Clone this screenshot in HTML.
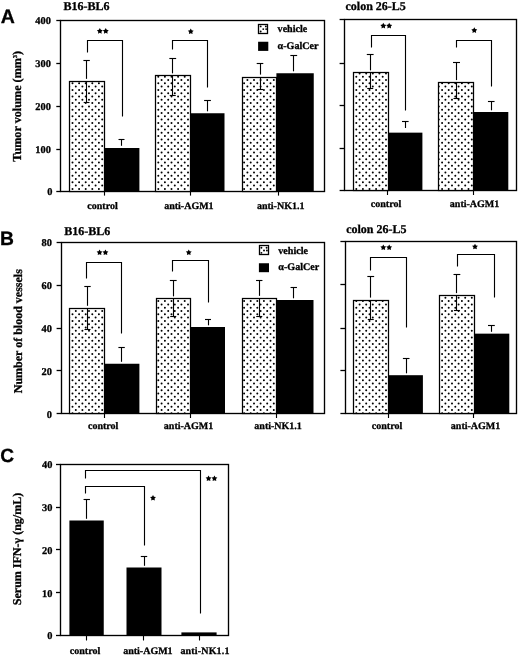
<!DOCTYPE html>
<html><head><meta charset="utf-8"><title>Figure</title>
<style>
html,body{margin:0;padding:0;background:#fff;}
body{width:520px;height:656px;overflow:hidden;font-family:"Liberation Serif",serif;}
svg{display:block;text-rendering:geometricPrecision;}
</style></head>
<body>
<svg width="520" height="656" viewBox="0 0 520 656">
<defs>
<filter id="soft" x="-2%" y="-2%" width="104%" height="104%"><feGaussianBlur stdDeviation="0.3"/></filter>
</defs>
<rect width="520" height="656" fill="#fff"/>
<g filter="url(#soft)">
<rect x="60.5" y="20.5" width="264.0" height="171.0" fill="none" stroke="#000" stroke-width="1.35"/>
<line x1="56.3" y1="20.5" x2="60.8" y2="20.5" stroke="#000" stroke-width="1.3"/>
<text x="50.9" y="24.15" font-family="Liberation Serif" font-weight="bold" font-size="10.4" text-anchor="end" fill="#000" stroke="#000" stroke-width="0.3" >400</text>
<line x1="56.3" y1="63.5" x2="60.8" y2="63.5" stroke="#000" stroke-width="1.3"/>
<text x="50.9" y="67.05" font-family="Liberation Serif" font-weight="bold" font-size="10.4" text-anchor="end" fill="#000" stroke="#000" stroke-width="0.3" >300</text>
<line x1="56.3" y1="106.5" x2="60.8" y2="106.5" stroke="#000" stroke-width="1.3"/>
<text x="50.9" y="109.85" font-family="Liberation Serif" font-weight="bold" font-size="10.4" text-anchor="end" fill="#000" stroke="#000" stroke-width="0.3" >200</text>
<line x1="56.3" y1="149.5" x2="60.8" y2="149.5" stroke="#000" stroke-width="1.3"/>
<text x="50.9" y="152.95" font-family="Liberation Serif" font-weight="bold" font-size="10.4" text-anchor="end" fill="#000" stroke="#000" stroke-width="0.3" >100</text>
<line x1="56.3" y1="191.5" x2="60.8" y2="191.5" stroke="#000" stroke-width="1.3"/>
<text x="52.5" y="195.45" font-family="Liberation Serif" font-weight="bold" font-size="10.4" text-anchor="end" fill="#000" stroke="#000" stroke-width="0.3" >0</text>
<clipPath id="c1"><rect x="69.5" y="81.25" width="34.75" height="110.45"/></clipPath>
<rect x="69.5" y="81.25" width="34.75" height="110.45" fill="#fff"/>
<path clip-path="url(#c1)" fill="none" stroke="#000" stroke-width="2.0" stroke-linecap="round" stroke-dasharray="0 6.6" d="M72.50 83.30H105.2M72.50 89.90H105.2M72.50 96.50H105.2M72.50 103.10H105.2M72.50 109.70H105.2M72.50 116.30H105.2M72.50 122.90H105.2M72.50 129.50H105.2M72.50 136.10H105.2M72.50 142.70H105.2M72.50 149.30H105.2M72.50 155.90H105.2M72.50 162.50H105.2M72.50 169.10H105.2M72.50 175.70H105.2M72.50 182.30H105.2M72.50 188.90H105.2M69.20 86.60H105.2M69.20 93.20H105.2M69.20 99.80H105.2M69.20 106.40H105.2M69.20 113.00H105.2M69.20 119.60H105.2M69.20 126.20H105.2M69.20 132.80H105.2M69.20 139.40H105.2M69.20 146.00H105.2M69.20 152.60H105.2M69.20 159.20H105.2M69.20 165.80H105.2M69.20 172.40H105.2M69.20 179.00H105.2M69.20 185.60H105.2M69.20 192.20H105.2"/>
<rect x="69.5" y="81.5" width="35.0" height="110.0" fill="none" stroke="#000" stroke-width="1.25"/>
<line x1="83.39999999999999" y1="60.5" x2="89.8" y2="60.5" stroke="#000" stroke-width="1.12"/>
<line x1="86.5" y1="60.7" x2="86.5" y2="78.85" stroke="#000" stroke-width="1.12"/>
<line x1="86.5" y1="81.25" x2="86.5" y2="102.4" stroke="#000" stroke-width="1.12"/>
<line x1="83.69999999999999" y1="102.5" x2="89.5" y2="102.5" stroke="#000" stroke-width="1.12"/>
<rect x="104.25" y="148" width="35.15" height="43.7" fill="#000" />
<line x1="118.5" y1="139.5" x2="124.5" y2="139.5" stroke="#000" stroke-width="1.12"/>
<line x1="121.5" y1="139.8" x2="121.5" y2="145.8" stroke="#000" stroke-width="1.12"/>
<clipPath id="c2"><rect x="155.5" y="75.75" width="34.5" height="115.95"/></clipPath>
<rect x="155.5" y="75.75" width="34.5" height="115.95" fill="#fff"/>
<path clip-path="url(#c2)" fill="none" stroke="#000" stroke-width="2.0" stroke-linecap="round" stroke-dasharray="0 6.6" d="M158.30 76.70H191.0M158.30 83.30H191.0M158.30 89.90H191.0M158.30 96.50H191.0M158.30 103.10H191.0M158.30 109.70H191.0M158.30 116.30H191.0M158.30 122.90H191.0M158.30 129.50H191.0M158.30 136.10H191.0M158.30 142.70H191.0M158.30 149.30H191.0M158.30 155.90H191.0M158.30 162.50H191.0M158.30 169.10H191.0M158.30 175.70H191.0M158.30 182.30H191.0M158.30 188.90H191.0M155.00 80.00H191.0M155.00 86.60H191.0M155.00 93.20H191.0M155.00 99.80H191.0M155.00 106.40H191.0M155.00 113.00H191.0M155.00 119.60H191.0M155.00 126.20H191.0M155.00 132.80H191.0M155.00 139.40H191.0M155.00 146.00H191.0M155.00 152.60H191.0M155.00 159.20H191.0M155.00 165.80H191.0M155.00 172.40H191.0M155.00 179.00H191.0M155.00 185.60H191.0M155.00 192.20H191.0"/>
<rect x="155.5" y="75.5" width="35.0" height="116.0" fill="none" stroke="#000" stroke-width="1.25"/>
<line x1="169.35" y1="58.5" x2="176.15" y2="58.5" stroke="#000" stroke-width="1.12"/>
<line x1="172.5" y1="58.75" x2="172.5" y2="73.35" stroke="#000" stroke-width="1.12"/>
<line x1="172.5" y1="75.75" x2="172.5" y2="95.5" stroke="#000" stroke-width="1.12"/>
<line x1="169.75" y1="95.5" x2="175.75" y2="95.5" stroke="#000" stroke-width="1.12"/>
<rect x="190" y="113.25" width="34.5" height="78.45" fill="#000" />
<line x1="204.1" y1="100.5" x2="210.9" y2="100.5" stroke="#000" stroke-width="1.12"/>
<line x1="207.5" y1="100.75" x2="207.5" y2="111.3" stroke="#000" stroke-width="1.12"/>
<clipPath id="c3"><rect x="242" y="77" width="34.4" height="114.7"/></clipPath>
<rect x="242" y="77" width="34.4" height="114.7" fill="#fff"/>
<path clip-path="url(#c3)" fill="none" stroke="#000" stroke-width="2.0" stroke-linecap="round" stroke-dasharray="0 6.6" d="M244.10 76.70H277.4M244.10 83.30H277.4M244.10 89.90H277.4M244.10 96.50H277.4M244.10 103.10H277.4M244.10 109.70H277.4M244.10 116.30H277.4M244.10 122.90H277.4M244.10 129.50H277.4M244.10 136.10H277.4M244.10 142.70H277.4M244.10 149.30H277.4M244.10 155.90H277.4M244.10 162.50H277.4M244.10 169.10H277.4M244.10 175.70H277.4M244.10 182.30H277.4M244.10 188.90H277.4M247.40 80.00H277.4M247.40 86.60H277.4M247.40 93.20H277.4M247.40 99.80H277.4M247.40 106.40H277.4M247.40 113.00H277.4M247.40 119.60H277.4M247.40 126.20H277.4M247.40 132.80H277.4M247.40 139.40H277.4M247.40 146.00H277.4M247.40 152.60H277.4M247.40 159.20H277.4M247.40 165.80H277.4M247.40 172.40H277.4M247.40 179.00H277.4M247.40 185.60H277.4M247.40 192.20H277.4"/>
<rect x="242.5" y="77.5" width="34.0" height="114.0" fill="none" stroke="#000" stroke-width="1.25"/>
<line x1="256.7" y1="63.5" x2="263.3" y2="63.5" stroke="#000" stroke-width="1.12"/>
<line x1="260.5" y1="63" x2="260.5" y2="74.6" stroke="#000" stroke-width="1.12"/>
<line x1="260.5" y1="77" x2="260.5" y2="89.5" stroke="#000" stroke-width="1.12"/>
<line x1="257.0" y1="89.5" x2="263.0" y2="89.5" stroke="#000" stroke-width="1.12"/>
<rect x="276.4" y="73.25" width="37.35" height="118.45" fill="#000" />
<line x1="290.35" y1="55.5" x2="297.15" y2="55.5" stroke="#000" stroke-width="1.12"/>
<line x1="293.5" y1="55" x2="293.5" y2="71.3" stroke="#000" stroke-width="1.12"/>
<polyline points="87.5,52.5 87.5,40.5 122.5,40.5 122.5,116.5" fill="none" stroke="#000" stroke-width="1.12"/>
<polyline points="172.5,49.5 172.5,40.5 207.5,40.5 207.5,87.5" fill="none" stroke="#000" stroke-width="1.12"/>
<polygon points="99.85,28.1 100.82,29.87 102.8,30.24 101.41,31.71 101.67,33.71 99.85,32.84 98.03,33.71 98.29,31.71 96.9,30.24 98.88,29.87" fill="#000"/>
<polygon points="105.75,28.1 106.72,29.87 108.7,30.24 107.31,31.71 107.57,33.71 105.75,32.84 103.93,33.71 104.19,31.71 102.8,30.24 104.78,29.87" fill="#000"/>
<polygon points="190.75,28.5 191.72,30.27 193.7,30.64 192.31,32.11 192.57,34.11 190.75,33.24 188.93,34.11 189.19,32.11 187.8,30.64 189.78,30.27" fill="#000"/>
<line x1="104.5" y1="191.7" x2="104.5" y2="195.6" stroke="#000" stroke-width="1.12"/>
<line x1="190.5" y1="191.7" x2="190.5" y2="195.6" stroke="#000" stroke-width="1.12"/>
<line x1="278.5" y1="191.7" x2="278.5" y2="195.6" stroke="#000" stroke-width="1.12"/>
<text x="102.5" y="208.75" font-family="Liberation Serif" font-weight="bold" font-size="10" text-anchor="middle" fill="#000" stroke="#000" stroke-width="0.3" >control</text>
<text x="188.9" y="208.75" font-family="Liberation Serif" font-weight="bold" font-size="10" text-anchor="middle" fill="#000" stroke="#000" stroke-width="0.3" >anti-AGM1</text>
<text x="280.7" y="208.75" font-family="Liberation Serif" font-weight="bold" font-size="10" text-anchor="middle" fill="#000" stroke="#000" stroke-width="0.3" >anti-NK1.1</text>
<text x="63.5" y="10.4" font-family="Liberation Serif" font-weight="bold" font-size="12" text-anchor="start" fill="#000" stroke="#000" stroke-width="0.3" >B16-BL6</text>
<rect x="258.5" y="24.5" width="9.0" height="9.0" fill="#fff" stroke="#000" stroke-width="1.3"/>
<circle cx="260.65" cy="26.4" r="0.95" fill="#000"/>
<circle cx="265.85" cy="26.4" r="0.95" fill="#000"/>
<circle cx="263.25" cy="29.1" r="0.95" fill="#000"/>
<circle cx="260.65" cy="31.5" r="0.95" fill="#000"/>
<circle cx="266.15" cy="29.1" r="0.95" fill="#000"/>
<rect x="258.1" y="41.75" width="10.2" height="9.15" fill="#000" />
<text x="277.6" y="32.3" font-family="Liberation Serif" font-weight="bold" font-size="10.1" text-anchor="start" fill="#000" stroke="#000" stroke-width="0.3" >vehicle</text>
<text x="277.6" y="49.1" font-family="Liberation Serif" font-weight="bold" font-size="10.1" text-anchor="start" fill="#000" stroke="#000" stroke-width="0.3" >&alpha;-GalCer</text>
<text x="0.7" y="22.8" font-family="Liberation Sans" font-weight="bold" font-size="19.5" text-anchor="start" fill="#000" stroke="#000" stroke-width="0.3" >A</text>
<text transform="translate(21.2,106.3) rotate(-90)" font-family="Liberation Serif" font-weight="bold" font-size="12.2" text-anchor="middle" fill="#000" stroke="#000" stroke-width="0.3">Tumor volume (mm<tspan font-size="6" dy="-4.6">3</tspan><tspan dy="4.6">)</tspan></text>
<rect x="344.5" y="19.5" width="172.0" height="171.0" fill="none" stroke="#000" stroke-width="1.35"/>
<line x1="339.6" y1="19.5" x2="344.6" y2="19.5" stroke="#000" stroke-width="1.3"/>
<line x1="339.6" y1="63.5" x2="344.6" y2="63.5" stroke="#000" stroke-width="1.3"/>
<line x1="339.6" y1="105.5" x2="344.6" y2="105.5" stroke="#000" stroke-width="1.3"/>
<line x1="339.6" y1="148.5" x2="344.6" y2="148.5" stroke="#000" stroke-width="1.3"/>
<line x1="339.6" y1="190.5" x2="344.6" y2="190.5" stroke="#000" stroke-width="1.3"/>
<clipPath id="c4"><rect x="353.4" y="72.75" width="34.6" height="117.85"/></clipPath>
<rect x="353.4" y="72.75" width="34.6" height="117.85" fill="#fff"/>
<path clip-path="url(#c4)" fill="none" stroke="#000" stroke-width="2.0" stroke-linecap="round" stroke-dasharray="0 6.6" d="M356.30 76.70H389.0M356.30 83.30H389.0M356.30 89.90H389.0M356.30 96.50H389.0M356.30 103.10H389.0M356.30 109.70H389.0M356.30 116.30H389.0M356.30 122.90H389.0M356.30 129.50H389.0M356.30 136.10H389.0M356.30 142.70H389.0M356.30 149.30H389.0M356.30 155.90H389.0M356.30 162.50H389.0M356.30 169.10H389.0M356.30 175.70H389.0M356.30 182.30H389.0M356.30 188.90H389.0M353.00 73.40H389.0M353.00 80.00H389.0M353.00 86.60H389.0M353.00 93.20H389.0M353.00 99.80H389.0M353.00 106.40H389.0M353.00 113.00H389.0M353.00 119.60H389.0M353.00 126.20H389.0M353.00 132.80H389.0M353.00 139.40H389.0M353.00 146.00H389.0M353.00 152.60H389.0M353.00 159.20H389.0M353.00 165.80H389.0M353.00 172.40H389.0M353.00 179.00H389.0M353.00 185.60H389.0"/>
<rect x="353.5" y="72.5" width="35.0" height="118.0" fill="none" stroke="#000" stroke-width="1.25"/>
<line x1="366.8" y1="54.5" x2="373.59999999999997" y2="54.5" stroke="#000" stroke-width="1.12"/>
<line x1="370.5" y1="54.5" x2="370.5" y2="70.35" stroke="#000" stroke-width="1.12"/>
<line x1="370.5" y1="72.75" x2="370.5" y2="88.75" stroke="#000" stroke-width="1.12"/>
<line x1="367.2" y1="88.5" x2="373.2" y2="88.5" stroke="#000" stroke-width="1.12"/>
<rect x="388" y="132.65" width="34.4" height="57.95" fill="#000" />
<line x1="402.0" y1="121.5" x2="408.6" y2="121.5" stroke="#000" stroke-width="1.12"/>
<line x1="405.5" y1="121.6" x2="405.5" y2="128.0" stroke="#000" stroke-width="1.12"/>
<clipPath id="c5"><rect x="438.75" y="82.5" width="35.0" height="108.1"/></clipPath>
<rect x="438.75" y="82.5" width="35.0" height="108.1" fill="#fff"/>
<path clip-path="url(#c5)" fill="none" stroke="#000" stroke-width="2.0" stroke-linecap="round" stroke-dasharray="0 6.6" d="M442.10 83.30H474.8M442.10 89.90H474.8M442.10 96.50H474.8M442.10 103.10H474.8M442.10 109.70H474.8M442.10 116.30H474.8M442.10 122.90H474.8M442.10 129.50H474.8M442.10 136.10H474.8M442.10 142.70H474.8M442.10 149.30H474.8M442.10 155.90H474.8M442.10 162.50H474.8M442.10 169.10H474.8M442.10 175.70H474.8M442.10 182.30H474.8M442.10 188.90H474.8M438.80 86.60H474.8M438.80 93.20H474.8M438.80 99.80H474.8M438.80 106.40H474.8M438.80 113.00H474.8M438.80 119.60H474.8M438.80 126.20H474.8M438.80 132.80H474.8M438.80 139.40H474.8M438.80 146.00H474.8M438.80 152.60H474.8M438.80 159.20H474.8M438.80 165.80H474.8M438.80 172.40H474.8M438.80 179.00H474.8M438.80 185.60H474.8"/>
<rect x="438.5" y="82.5" width="35.0" height="108.0" fill="none" stroke="#000" stroke-width="1.25"/>
<line x1="453.0" y1="62.5" x2="460.0" y2="62.5" stroke="#000" stroke-width="1.12"/>
<line x1="456.5" y1="62" x2="456.5" y2="80.1" stroke="#000" stroke-width="1.12"/>
<line x1="456.5" y1="82.5" x2="456.5" y2="98.75" stroke="#000" stroke-width="1.12"/>
<line x1="453.5" y1="98.5" x2="459.5" y2="98.5" stroke="#000" stroke-width="1.12"/>
<rect x="473.75" y="112" width="34.55" height="78.6" fill="#000" />
<line x1="487.95" y1="101.5" x2="494.55" y2="101.5" stroke="#000" stroke-width="1.12"/>
<line x1="491.5" y1="101.25" x2="491.5" y2="110.3" stroke="#000" stroke-width="1.12"/>
<polyline points="371.5,47.5 371.5,35.5 405.5,35.5 405.5,110.5" fill="none" stroke="#000" stroke-width="1.12"/>
<polyline points="456.5,47.5 456.5,40.5 491.5,40.5 491.5,86.5" fill="none" stroke="#000" stroke-width="1.12"/>
<polygon points="383.3,22.8 384.27,24.57 386.25,24.94 384.86,26.41 385.12,28.41 383.3,27.54 381.48,28.41 381.74,26.41 380.35,24.94 382.33,24.57" fill="#000"/>
<polygon points="389.2,22.8 390.17,24.57 392.15,24.94 390.76,26.41 391.02,28.41 389.2,27.54 387.38,28.41 387.64,26.41 386.25,24.94 388.23,24.57" fill="#000"/>
<polygon points="474.3,27.3 475.27,29.07 477.25,29.44 475.86,30.91 476.12,32.91 474.3,32.04 472.48,32.91 472.74,30.91 471.35,29.44 473.33,29.07" fill="#000"/>
<line x1="387.5" y1="190.6" x2="387.5" y2="195" stroke="#000" stroke-width="1.12"/>
<line x1="473.5" y1="190.6" x2="473.5" y2="195" stroke="#000" stroke-width="1.12"/>
<text x="386" y="206.75" font-family="Liberation Serif" font-weight="bold" font-size="10" text-anchor="middle" fill="#000" stroke="#000" stroke-width="0.3" >control</text>
<text x="474.6" y="206.75" font-family="Liberation Serif" font-weight="bold" font-size="10" text-anchor="middle" fill="#000" stroke="#000" stroke-width="0.3" >anti-AGM1</text>
<text x="345.5" y="9.5" font-family="Liberation Serif" font-weight="bold" font-size="12" text-anchor="start" fill="#000" stroke="#000" stroke-width="0.3" >colon 26-L5</text>
<rect x="61.5" y="242.5" width="263.0" height="171.0" fill="none" stroke="#000" stroke-width="1.35"/>
<line x1="56.6" y1="242.5" x2="61.4" y2="242.5" stroke="#000" stroke-width="1.3"/>
<text x="52" y="246.0" font-family="Liberation Serif" font-weight="bold" font-size="10.4" text-anchor="end" fill="#000" stroke="#000" stroke-width="0.3" >80</text>
<line x1="56.6" y1="285.5" x2="61.4" y2="285.5" stroke="#000" stroke-width="1.3"/>
<text x="52" y="289.0" font-family="Liberation Serif" font-weight="bold" font-size="10.4" text-anchor="end" fill="#000" stroke="#000" stroke-width="0.3" >60</text>
<line x1="56.6" y1="328.5" x2="61.4" y2="328.5" stroke="#000" stroke-width="1.3"/>
<text x="52" y="331.95" font-family="Liberation Serif" font-weight="bold" font-size="10.4" text-anchor="end" fill="#000" stroke="#000" stroke-width="0.3" >40</text>
<line x1="56.6" y1="370.5" x2="61.4" y2="370.5" stroke="#000" stroke-width="1.3"/>
<text x="52" y="374.65" font-family="Liberation Serif" font-weight="bold" font-size="10.4" text-anchor="end" fill="#000" stroke="#000" stroke-width="0.3" >20</text>
<line x1="56.6" y1="413.5" x2="61.4" y2="413.5" stroke="#000" stroke-width="1.3"/>
<text x="52" y="417.5" font-family="Liberation Serif" font-weight="bold" font-size="10.4" text-anchor="end" fill="#000" stroke="#000" stroke-width="0.3" >0</text>
<clipPath id="c6"><rect x="69.7" y="308.2" width="34.8" height="105.55"/></clipPath>
<rect x="69.7" y="308.2" width="34.8" height="105.55" fill="#fff"/>
<path clip-path="url(#c6)" fill="none" stroke="#000" stroke-width="2.0" stroke-linecap="round" stroke-dasharray="0 6.6" d="M72.50 307.70H105.5M72.50 314.30H105.5M72.50 320.90H105.5M72.50 327.50H105.5M72.50 334.10H105.5M72.50 340.70H105.5M72.50 347.30H105.5M72.50 353.90H105.5M72.50 360.50H105.5M72.50 367.10H105.5M72.50 373.70H105.5M72.50 380.30H105.5M72.50 386.90H105.5M72.50 393.50H105.5M72.50 400.10H105.5M72.50 406.70H105.5M72.50 413.30H105.5M69.20 311.00H105.5M69.20 317.60H105.5M69.20 324.20H105.5M69.20 330.80H105.5M69.20 337.40H105.5M69.20 344.00H105.5M69.20 350.60H105.5M69.20 357.20H105.5M69.20 363.80H105.5M69.20 370.40H105.5M69.20 377.00H105.5M69.20 383.60H105.5M69.20 390.20H105.5M69.20 396.80H105.5M69.20 403.40H105.5M69.20 410.00H105.5"/>
<rect x="69.5" y="308.5" width="35.0" height="105.0" fill="none" stroke="#000" stroke-width="1.25"/>
<line x1="84.3" y1="286.5" x2="90.7" y2="286.5" stroke="#000" stroke-width="1.12"/>
<line x1="87.5" y1="286.75" x2="87.5" y2="305.8" stroke="#000" stroke-width="1.12"/>
<line x1="87.5" y1="308.2" x2="87.5" y2="329.5" stroke="#000" stroke-width="1.12"/>
<line x1="84.5" y1="329.5" x2="90.5" y2="329.5" stroke="#000" stroke-width="1.12"/>
<rect x="104.5" y="363.75" width="34.9" height="50.0" fill="#000" />
<line x1="118.39999999999999" y1="347.5" x2="124.8" y2="347.5" stroke="#000" stroke-width="1.12"/>
<line x1="121.5" y1="347.5" x2="121.5" y2="361.8" stroke="#000" stroke-width="1.12"/>
<clipPath id="c7"><rect x="156.25" y="298.75" width="34.5" height="115.0"/></clipPath>
<rect x="156.25" y="298.75" width="34.5" height="115.0" fill="#fff"/>
<path clip-path="url(#c7)" fill="none" stroke="#000" stroke-width="2.0" stroke-linecap="round" stroke-dasharray="0 6.6" d="M158.30 301.10H191.8M158.30 307.70H191.8M158.30 314.30H191.8M158.30 320.90H191.8M158.30 327.50H191.8M158.30 334.10H191.8M158.30 340.70H191.8M158.30 347.30H191.8M158.30 353.90H191.8M158.30 360.50H191.8M158.30 367.10H191.8M158.30 373.70H191.8M158.30 380.30H191.8M158.30 386.90H191.8M158.30 393.50H191.8M158.30 400.10H191.8M158.30 406.70H191.8M158.30 413.30H191.8M161.60 297.80H191.8M161.60 304.40H191.8M161.60 311.00H191.8M161.60 317.60H191.8M161.60 324.20H191.8M161.60 330.80H191.8M161.60 337.40H191.8M161.60 344.00H191.8M161.60 350.60H191.8M161.60 357.20H191.8M161.60 363.80H191.8M161.60 370.40H191.8M161.60 377.00H191.8M161.60 383.60H191.8M161.60 390.20H191.8M161.60 396.80H191.8M161.60 403.40H191.8M161.60 410.00H191.8"/>
<rect x="156.5" y="298.5" width="34.0" height="115.0" fill="none" stroke="#000" stroke-width="1.25"/>
<line x1="169.85" y1="280.5" x2="176.65" y2="280.5" stroke="#000" stroke-width="1.12"/>
<line x1="173.5" y1="280" x2="173.5" y2="296.35" stroke="#000" stroke-width="1.12"/>
<line x1="173.5" y1="298.75" x2="173.5" y2="316.75" stroke="#000" stroke-width="1.12"/>
<line x1="170.25" y1="316.5" x2="176.25" y2="316.5" stroke="#000" stroke-width="1.12"/>
<rect x="190.75" y="327" width="34.25" height="86.75" fill="#000" />
<line x1="205.0" y1="319.5" x2="211.0" y2="319.5" stroke="#000" stroke-width="1.12"/>
<line x1="208.5" y1="319.5" x2="208.5" y2="325.3" stroke="#000" stroke-width="1.12"/>
<clipPath id="c8"><rect x="242" y="298.25" width="34.5" height="115.5"/></clipPath>
<rect x="242" y="298.25" width="34.5" height="115.5" fill="#fff"/>
<path clip-path="url(#c8)" fill="none" stroke="#000" stroke-width="2.0" stroke-linecap="round" stroke-dasharray="0 6.6" d="M244.10 301.10H277.5M244.10 307.70H277.5M244.10 314.30H277.5M244.10 320.90H277.5M244.10 327.50H277.5M244.10 334.10H277.5M244.10 340.70H277.5M244.10 347.30H277.5M244.10 353.90H277.5M244.10 360.50H277.5M244.10 367.10H277.5M244.10 373.70H277.5M244.10 380.30H277.5M244.10 386.90H277.5M244.10 393.50H277.5M244.10 400.10H277.5M244.10 406.70H277.5M244.10 413.30H277.5M247.40 297.80H277.5M247.40 304.40H277.5M247.40 311.00H277.5M247.40 317.60H277.5M247.40 324.20H277.5M247.40 330.80H277.5M247.40 337.40H277.5M247.40 344.00H277.5M247.40 350.60H277.5M247.40 357.20H277.5M247.40 363.80H277.5M247.40 370.40H277.5M247.40 377.00H277.5M247.40 383.60H277.5M247.40 390.20H277.5M247.40 396.80H277.5M247.40 403.40H277.5M247.40 410.00H277.5"/>
<rect x="242.5" y="298.5" width="34.0" height="115.0" fill="none" stroke="#000" stroke-width="1.25"/>
<line x1="256.05" y1="280.5" x2="262.45" y2="280.5" stroke="#000" stroke-width="1.12"/>
<line x1="259.5" y1="280" x2="259.5" y2="295.85" stroke="#000" stroke-width="1.12"/>
<line x1="259.5" y1="298.25" x2="259.5" y2="316.25" stroke="#000" stroke-width="1.12"/>
<line x1="256.25" y1="316.5" x2="262.25" y2="316.5" stroke="#000" stroke-width="1.12"/>
<rect x="276.5" y="300" width="37.0" height="113.75" fill="#000" />
<line x1="290.55" y1="287.5" x2="296.95" y2="287.5" stroke="#000" stroke-width="1.12"/>
<line x1="293.5" y1="287" x2="293.5" y2="298.3" stroke="#000" stroke-width="1.12"/>
<polyline points="86.5,278.5 86.5,262.5 121.5,262.5 121.5,333.5" fill="none" stroke="#000" stroke-width="1.12"/>
<polyline points="172.5,271.5 172.5,260.5 208.5,260.5 208.5,302.5" fill="none" stroke="#000" stroke-width="1.12"/>
<polygon points="99.55,249.4 100.52,251.17 102.5,251.54 101.11,253.01 101.37,255.01 99.55,254.14 97.73,255.01 97.99,253.01 96.6,251.54 98.58,251.17" fill="#000"/>
<polygon points="105.45,249.4 106.42,251.17 108.4,251.54 107.01,253.01 107.27,255.01 105.45,254.14 103.63,255.01 103.89,253.01 102.5,251.54 104.48,251.17" fill="#000"/>
<polygon points="188.75,249.4 189.72,251.17 191.7,251.54 190.31,253.01 190.57,255.01 188.75,254.14 186.93,255.01 187.19,253.01 185.8,251.54 187.78,251.17" fill="#000"/>
<line x1="104.5" y1="413.75" x2="104.5" y2="418" stroke="#000" stroke-width="1.12"/>
<line x1="190.5" y1="413.75" x2="190.5" y2="418" stroke="#000" stroke-width="1.12"/>
<line x1="276.5" y1="413.75" x2="276.5" y2="418" stroke="#000" stroke-width="1.12"/>
<text x="103.2" y="429.2" font-family="Liberation Serif" font-weight="bold" font-size="10" text-anchor="middle" fill="#000" stroke="#000" stroke-width="0.3" >control</text>
<text x="188.6" y="429.2" font-family="Liberation Serif" font-weight="bold" font-size="10" text-anchor="middle" fill="#000" stroke="#000" stroke-width="0.3" >anti-AGM1</text>
<text x="278.1" y="429.2" font-family="Liberation Serif" font-weight="bold" font-size="10" text-anchor="middle" fill="#000" stroke="#000" stroke-width="0.3" >anti-NK1.1</text>
<text x="64.2" y="234.5" font-family="Liberation Serif" font-weight="bold" font-size="12" text-anchor="start" fill="#000" stroke="#000" stroke-width="0.3" >B16-BL6</text>
<rect x="259.5" y="245.5" width="9.0" height="9.0" fill="#fff" stroke="#000" stroke-width="1.3"/>
<circle cx="261.4" cy="247.75" r="0.95" fill="#000"/>
<circle cx="266.6" cy="247.75" r="0.95" fill="#000"/>
<circle cx="264.0" cy="250.45" r="0.95" fill="#000"/>
<circle cx="261.4" cy="252.85" r="0.95" fill="#000"/>
<circle cx="266.9" cy="250.45" r="0.95" fill="#000"/>
<rect x="258.9" y="263.25" width="10.1" height="8.95" fill="#000" />
<text x="278.3" y="253.6" font-family="Liberation Serif" font-weight="bold" font-size="10.1" text-anchor="start" fill="#000" stroke="#000" stroke-width="0.3" >vehicle</text>
<text x="278.3" y="270.0" font-family="Liberation Serif" font-weight="bold" font-size="10.1" text-anchor="start" fill="#000" stroke="#000" stroke-width="0.3" >&alpha;-GalCer</text>
<text x="-0.1" y="244.8" font-family="Liberation Sans" font-weight="bold" font-size="19.3" text-anchor="start" fill="#000" stroke="#000" stroke-width="0.3" >B</text>
<text transform="translate(21.6,331.2) rotate(-90)" font-family="Liberation Serif" font-weight="bold" font-size="12" text-anchor="middle" fill="#000" stroke="#000" stroke-width="0.3">Number of blood vessels</text>
<rect x="345.5" y="241.5" width="171.0" height="172.0" fill="none" stroke="#000" stroke-width="1.35"/>
<line x1="340.4" y1="241.5" x2="345.4" y2="241.5" stroke="#000" stroke-width="1.3"/>
<line x1="340.4" y1="284.5" x2="345.4" y2="284.5" stroke="#000" stroke-width="1.3"/>
<line x1="340.4" y1="328.5" x2="345.4" y2="328.5" stroke="#000" stroke-width="1.3"/>
<line x1="340.4" y1="370.5" x2="345.4" y2="370.5" stroke="#000" stroke-width="1.3"/>
<line x1="340.4" y1="413.5" x2="345.4" y2="413.5" stroke="#000" stroke-width="1.3"/>
<clipPath id="c9"><rect x="353.75" y="300" width="34.85" height="113.6"/></clipPath>
<rect x="353.75" y="300" width="34.85" height="113.6" fill="#fff"/>
<path clip-path="url(#c9)" fill="none" stroke="#000" stroke-width="2.0" stroke-linecap="round" stroke-dasharray="0 6.6" d="M356.30 301.10H389.6M356.30 307.70H389.6M356.30 314.30H389.6M356.30 320.90H389.6M356.30 327.50H389.6M356.30 334.10H389.6M356.30 340.70H389.6M356.30 347.30H389.6M356.30 353.90H389.6M356.30 360.50H389.6M356.30 367.10H389.6M356.30 373.70H389.6M356.30 380.30H389.6M356.30 386.90H389.6M356.30 393.50H389.6M356.30 400.10H389.6M356.30 406.70H389.6M356.30 413.30H389.6M353.00 304.40H389.6M353.00 311.00H389.6M353.00 317.60H389.6M353.00 324.20H389.6M353.00 330.80H389.6M353.00 337.40H389.6M353.00 344.00H389.6M353.00 350.60H389.6M353.00 357.20H389.6M353.00 363.80H389.6M353.00 370.40H389.6M353.00 377.00H389.6M353.00 383.60H389.6M353.00 390.20H389.6M353.00 396.80H389.6M353.00 403.40H389.6M353.00 410.00H389.6"/>
<rect x="353.5" y="300.5" width="35.0" height="113.0" fill="none" stroke="#000" stroke-width="1.25"/>
<line x1="367.35" y1="276.5" x2="374.15" y2="276.5" stroke="#000" stroke-width="1.12"/>
<line x1="370.5" y1="276.2" x2="370.5" y2="297.6" stroke="#000" stroke-width="1.12"/>
<line x1="370.5" y1="300" x2="370.5" y2="319.5" stroke="#000" stroke-width="1.12"/>
<line x1="367.75" y1="319.5" x2="373.75" y2="319.5" stroke="#000" stroke-width="1.12"/>
<rect x="388.6" y="375.2" width="34.3" height="38.4" fill="#000" />
<line x1="402.9" y1="358.5" x2="409.5" y2="358.5" stroke="#000" stroke-width="1.12"/>
<line x1="406.5" y1="358.5" x2="406.5" y2="373.3" stroke="#000" stroke-width="1.12"/>
<clipPath id="c10"><rect x="439.5" y="295.5" width="35.1" height="118.1"/></clipPath>
<rect x="439.5" y="295.5" width="35.1" height="118.1" fill="#fff"/>
<path clip-path="url(#c10)" fill="none" stroke="#000" stroke-width="2.0" stroke-linecap="round" stroke-dasharray="0 6.6" d="M442.10 294.50H475.6M442.10 301.10H475.6M442.10 307.70H475.6M442.10 314.30H475.6M442.10 320.90H475.6M442.10 327.50H475.6M442.10 334.10H475.6M442.10 340.70H475.6M442.10 347.30H475.6M442.10 353.90H475.6M442.10 360.50H475.6M442.10 367.10H475.6M442.10 373.70H475.6M442.10 380.30H475.6M442.10 386.90H475.6M442.10 393.50H475.6M442.10 400.10H475.6M442.10 406.70H475.6M442.10 413.30H475.6M438.80 297.80H475.6M438.80 304.40H475.6M438.80 311.00H475.6M438.80 317.60H475.6M438.80 324.20H475.6M438.80 330.80H475.6M438.80 337.40H475.6M438.80 344.00H475.6M438.80 350.60H475.6M438.80 357.20H475.6M438.80 363.80H475.6M438.80 370.40H475.6M438.80 377.00H475.6M438.80 383.60H475.6M438.80 390.20H475.6M438.80 396.80H475.6M438.80 403.40H475.6M438.80 410.00H475.6"/>
<rect x="439.5" y="295.5" width="35.0" height="118.0" fill="none" stroke="#000" stroke-width="1.25"/>
<line x1="453.5" y1="274.5" x2="460.29999999999995" y2="274.5" stroke="#000" stroke-width="1.12"/>
<line x1="456.5" y1="274.7" x2="456.5" y2="293.1" stroke="#000" stroke-width="1.12"/>
<line x1="456.5" y1="295.5" x2="456.5" y2="310.7" stroke="#000" stroke-width="1.12"/>
<line x1="453.9" y1="310.5" x2="459.9" y2="310.5" stroke="#000" stroke-width="1.12"/>
<rect x="474.6" y="333.65" width="34.7" height="79.95" fill="#000" />
<line x1="488.0" y1="325.5" x2="494.79999999999995" y2="325.5" stroke="#000" stroke-width="1.12"/>
<line x1="491.5" y1="325.3" x2="491.5" y2="331.8" stroke="#000" stroke-width="1.12"/>
<polyline points="370.5,270.5 370.5,257.5 406.5,257.5 406.5,327.5" fill="none" stroke="#000" stroke-width="1.12"/>
<polyline points="457.5,266.5 457.5,254.5 494.5,254.5 494.5,297.5" fill="none" stroke="#000" stroke-width="1.12"/>
<polygon points="383.3,244.4 384.27,246.17 386.25,246.54 384.86,248.01 385.12,250.01 383.3,249.14 381.48,250.01 381.74,248.01 380.35,246.54 382.33,246.17" fill="#000"/>
<polygon points="389.2,244.4 390.17,246.17 392.15,246.54 390.76,248.01 391.02,250.01 389.2,249.14 387.38,250.01 387.64,248.01 386.25,246.54 388.23,246.17" fill="#000"/>
<polygon points="475.0,243.7 475.97,245.47 477.95,245.84 476.56,247.31 476.82,249.31 475.0,248.44 473.18,249.31 473.44,247.31 472.05,245.84 474.03,245.47" fill="#000"/>
<line x1="388.5" y1="413.6" x2="388.5" y2="418" stroke="#000" stroke-width="1.12"/>
<line x1="473.5" y1="413.6" x2="473.5" y2="418" stroke="#000" stroke-width="1.12"/>
<text x="387" y="428.9" font-family="Liberation Serif" font-weight="bold" font-size="10" text-anchor="middle" fill="#000" stroke="#000" stroke-width="0.3" >control</text>
<text x="475.6" y="428.9" font-family="Liberation Serif" font-weight="bold" font-size="10" text-anchor="middle" fill="#000" stroke="#000" stroke-width="0.3" >anti-AGM1</text>
<text x="346.2" y="233.3" font-family="Liberation Serif" font-weight="bold" font-size="12" text-anchor="start" fill="#000" stroke="#000" stroke-width="0.3" >colon 26-L5</text>
<rect x="60.5" y="464.5" width="168.0" height="171.0" fill="none" stroke="#000" stroke-width="1.35"/>
<line x1="56.0" y1="464.5" x2="60.6" y2="464.5" stroke="#000" stroke-width="1.3"/>
<text x="52.5" y="468.0" font-family="Liberation Serif" font-weight="bold" font-size="10.4" text-anchor="end" fill="#000" stroke="#000" stroke-width="0.3" >40</text>
<line x1="56.0" y1="507.5" x2="60.6" y2="507.5" stroke="#000" stroke-width="1.3"/>
<text x="52.5" y="510.75" font-family="Liberation Serif" font-weight="bold" font-size="10.4" text-anchor="end" fill="#000" stroke="#000" stroke-width="0.3" >30</text>
<line x1="56.0" y1="549.5" x2="60.6" y2="549.5" stroke="#000" stroke-width="1.3"/>
<text x="52.5" y="553.55" font-family="Liberation Serif" font-weight="bold" font-size="10.4" text-anchor="end" fill="#000" stroke="#000" stroke-width="0.3" >20</text>
<line x1="56.0" y1="592.5" x2="60.6" y2="592.5" stroke="#000" stroke-width="1.3"/>
<text x="52.5" y="596.55" font-family="Liberation Serif" font-weight="bold" font-size="10.4" text-anchor="end" fill="#000" stroke="#000" stroke-width="0.3" >10</text>
<line x1="56.0" y1="635.5" x2="60.6" y2="635.5" stroke="#000" stroke-width="1.3"/>
<text x="52.5" y="639.25" font-family="Liberation Serif" font-weight="bold" font-size="10.4" text-anchor="end" fill="#000" stroke="#000" stroke-width="0.3" >0</text>
<rect x="69.4" y="520.5" width="34.35" height="115.0" fill="#000" />
<line x1="83.55" y1="499.5" x2="89.95" y2="499.5" stroke="#000" stroke-width="1.12"/>
<line x1="86.5" y1="499.25" x2="86.5" y2="518.8" stroke="#000" stroke-width="1.12"/>
<rect x="126.5" y="567.5" width="35.0" height="68.0" fill="#000" />
<line x1="140.8" y1="556.5" x2="147.2" y2="556.5" stroke="#000" stroke-width="1.12"/>
<line x1="144.5" y1="556" x2="144.5" y2="565.8" stroke="#000" stroke-width="1.12"/>
<rect x="181.4" y="632.4" width="35.2" height="3.1" fill="#000" />
<polyline points="85.5,478.5 85.5,470.5 200.5,470.5 200.5,613.5" fill="none" stroke="#000" stroke-width="1.12"/>
<polyline points="85.5,493.5 85.5,486.5 144.5,486.5 144.5,545.5" fill="none" stroke="#000" stroke-width="1.12"/>
<polygon points="153.0,494.9 153.97,496.67 155.95,497.04 154.56,498.51 154.82,500.51 153.0,499.64 151.18,500.51 151.44,498.51 150.05,497.04 152.03,496.67" fill="#000"/>
<polygon points="208.55,475.4 209.52,477.17 211.5,477.54 210.11,479.01 210.37,481.01 208.55,480.14 206.73,481.01 206.99,479.01 205.6,477.54 207.58,477.17" fill="#000"/>
<polygon points="214.45,475.4 215.42,477.17 217.4,477.54 216.01,479.01 216.27,481.01 214.45,480.14 212.63,481.01 212.89,479.01 211.5,477.54 213.48,477.17" fill="#000"/>
<line x1="86.5" y1="635.5" x2="86.5" y2="640.5" stroke="#000" stroke-width="1.12"/>
<line x1="143.5" y1="635.5" x2="143.5" y2="640.5" stroke="#000" stroke-width="1.12"/>
<line x1="199.5" y1="635.5" x2="199.5" y2="640.5" stroke="#000" stroke-width="1.12"/>
<text x="85" y="653.75" font-family="Liberation Serif" font-weight="bold" font-size="10" text-anchor="middle" fill="#000" stroke="#000" stroke-width="0.3" >control</text>
<text x="147.9" y="653.75" font-family="Liberation Serif" font-weight="bold" font-size="10" text-anchor="middle" fill="#000" stroke="#000" stroke-width="0.3" >anti-AGM1</text>
<text x="204.9" y="653.75" font-family="Liberation Serif" font-weight="bold" font-size="10" text-anchor="middle" fill="#000" stroke="#000" stroke-width="0.3" textLength="49" lengthAdjust="spacing">anti-NK1.1</text>
<text x="0.3" y="462.0" font-family="Liberation Sans" font-weight="bold" font-size="19.1" text-anchor="start" fill="#000" stroke="#000" stroke-width="0.3" >C</text>
<text transform="translate(21.2,549) rotate(-90)" font-family="Liberation Serif" font-weight="bold" font-size="12" text-anchor="middle" fill="#000" stroke="#000" stroke-width="0.3">Serum IFN-&gamma; (ng/mL)</text>
</g>
</svg>
</body></html>
